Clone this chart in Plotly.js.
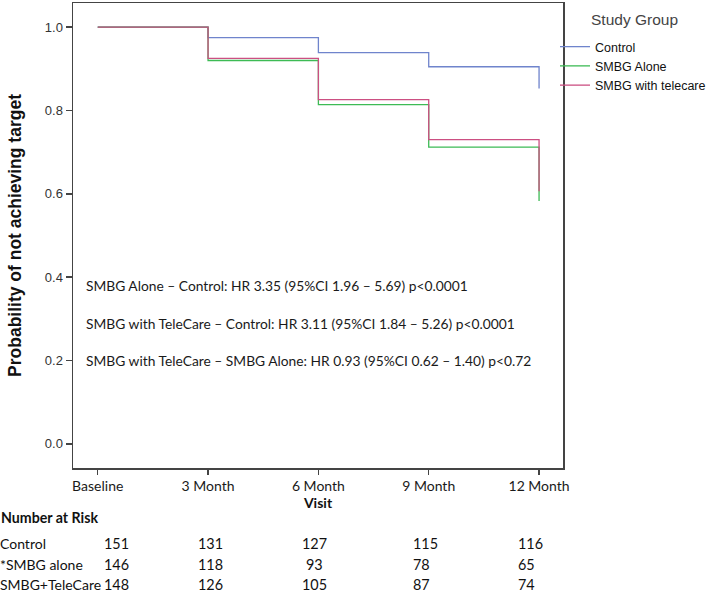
<!DOCTYPE html>
<html>
<head>
<meta charset="utf-8">
<script src="https://cdn.plot.ly/plotly-3.0.1.min.js"></script>
<style>html,body{margin:0;padding:0;background:#fff;}#chart{width:709px;height:595px;}</style>
</head>
<body>
<div id="chart"></div>
<script>
// ---- data ----
var visits = ['Baseline', '3 Month', '6 Month', '9 Month', '12 Month'];
var seriesNames = ['Control', 'SMBG Alone', 'SMBG with telecare'];
var control = [1.0, 0.975, 0.939, 0.905, 0.853];
var smbgAlone = [1.0, 0.920, 0.814, 0.712, 0.583];
var smbgTelecare = [1.0, 0.925, 0.826, 0.730, 0.606];
var hrTexts = [
  'SMBG Alone \u2013 Control: HR 3.35 (95%CI 1.96 \u2013 5.69) p<0.0001',
  'SMBG with TeleCare \u2013 Control: HR 3.11 (95%CI 1.84 \u2013 5.26) p<0.0001',
  'SMBG with TeleCare \u2013 SMBG Alone: HR 0.93 (95%CI 0.62 \u2013 1.40) p<0.72'
];
var riskTitle = 'Number at Risk';
var riskGroups = ['Control', '*SMBG alone', 'SMBG+TeleCare'];
var riskControl = [151, 131, 127, 115, 116];
var riskAlone = [146, 118, 93, 78, 65];
var riskTelecare = [148, 126, 105, 87, 74];

// ---- styling / layout ----
var colors = ['#6f84cc', '#3dbb55', '#cc4f82'];
var calibriLike = 'Lato, "Open Sans", sans-serif';
var arialLike = '"Liberation Sans", Arial, sans-serif';

var plotL = 73, plotR = 563, plotT = 3, plotB = 468, W = 709, H = 595;
function px2paperX(px) { return (px - plotL) / (plotR - plotL); }
function px2paperY(py) { return (plotB - py) / (plotB - plotT); }

var ys = [control, smbgAlone, smbgTelecare];
var traces = ys.map(function (y, i) {
  return {
    x: visits, y: y, type: 'scatter', mode: 'lines', name: seriesNames[i],
    line: {shape: 'hv', color: colors[i], width: 1.3}
  };
});

var annotations = [];
// HR texts
var hrY = [285, 323, 360];
hrTexts.forEach(function (t, i) {
  annotations.push({xref: 'paper', yref: 'paper', x: px2paperX(84), y: px2paperY(hrY[i]),
    xanchor: 'left', yanchor: 'middle', text: t, showarrow: false,
    font: {family: calibriLike, size: 13.8, color: '#1a1a1a'}});
});
// legend title
annotations.push({xref: 'paper', yref: 'paper', x: px2paperX(589), y: px2paperY(20),
  xanchor: 'left', yanchor: 'middle', text: 'Study Group', showarrow: false,
  font: {family: arialLike, size: 15.5, color: '#444'}});
// risk table
var tableFont = {family: calibriLike, size: 14, color: '#111'};
annotations.push({xref: 'paper', yref: 'paper', x: px2paperX(-1), y: px2paperY(517),
  xanchor: 'left', yanchor: 'middle', text: '<b>' + riskTitle + '</b>', showarrow: false,
  font: {family: calibriLike, size: 14.2, color: '#111'}});
var rowY = [543, 564, 585];
var colLeft = [102, 195.5, 314, 410.5, 515.5];
var colAnchor = ['left', 'left', 'center', 'left', 'left'];
[riskControl, riskAlone, riskTelecare].forEach(function (row, r) {
  annotations.push({xref: 'paper', yref: 'paper', x: px2paperX(-2), y: px2paperY(rowY[r]),
    xanchor: 'left', yanchor: 'middle', text: riskGroups[r], showarrow: false,
    font: tableFont});
  row.forEach(function (v, c) {
    annotations.push({xref: 'paper', yref: 'paper', x: px2paperX(colLeft[c]), y: px2paperY(rowY[r]),
      xanchor: colAnchor[c], yanchor: 'middle', text: String(v), showarrow: false,
      font: {family: calibriLike, size: 14.4, color: '#111'}});
  });
});

var layout = {
  width: W, height: H,
  margin: {l: plotL, r: W - plotR, t: plotT, b: H - plotB, pad: 0, autoexpand: false},
  paper_bgcolor: '#fff', plot_bgcolor: '#fff',
  showlegend: true,
  legend: {x: px2paperX(555), y: px2paperY(32), xanchor: 'left', yanchor: 'top',
    font: {family: arialLike, size: 12.5, color: '#111'}, bgcolor: 'rgba(0,0,0,0)',
    borderwidth: 0, itemwidth: 30, tracegroupgap: 0},
  xaxis: {
    type: 'category', range: [-0.224, 4.217], showgrid: false, zeroline: false,
    showline: true, linecolor: '#444', linewidth: 1.5, mirror: true,
    ticks: 'outside', ticklen: 5, tickcolor: '#444', tickwidth: 1.5,
    tickfont: {family: calibriLike, size: 14, color: '#1a1a1a'},
    title: {text: '<b>Visit</b>', font: {family: calibriLike, size: 14, color: '#111'}, standoff: 3},
    fixedrange: true
  },
  yaxis: {
    range: [-0.058, 1.058], showgrid: false, zeroline: false,
    tickvals: [0, 0.2, 0.4, 0.6, 0.8, 1.0], ticktext: ['0.0', '0.2', '0.4', '0.6', '0.8', '1.0'],
    showline: true, linecolor: '#444', linewidth: 1.5, mirror: true,
    ticks: 'outside', ticklen: 6, tickcolor: '#444', tickwidth: 1.5,
    tickfont: {family: arialLike, size: 13, color: '#333'},
    title: {text: '<b>Probability of not achieving target</b>', font: {family: arialLike, size: 17.5, color: '#111'}, standoff: 18},
    fixedrange: true
  },
  annotations: annotations
};

Plotly.newPlot('chart', traces, layout, {displayModeBar: false, staticPlot: true});
</script>
</body>
</html>
